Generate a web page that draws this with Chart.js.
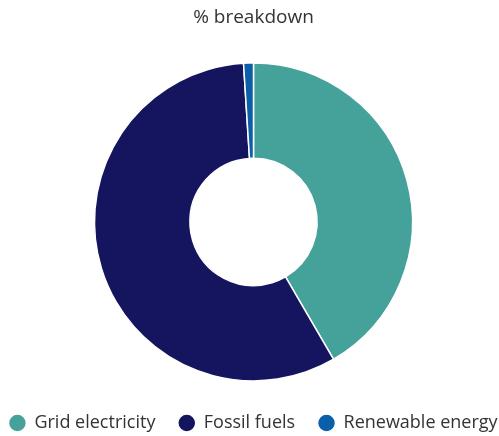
<!DOCTYPE html>
<html>
<head>
<meta charset="utf-8">
<script src="https://cdn.jsdelivr.net/npm/chart.js@4"></script>
<style>
  html, body { margin: 0; padding: 0; background: #fff; }
  #wrap { width: 499px; height: 436px; }
</style>
</head>
<body>
<div id="wrap"><canvas id="chart"></canvas></div>
<script>
// 数据
const categories = ['Grid electricity', 'Fossil fuels', 'Renewable energy'];
const shares = [41.6, 57.4, 1.0];
const colors = ['#45a29b', '#15155f', '#0b5ea8'];

// 图例项之间的间距用尾部空格，这样三项能放在一行
const gap = '     ';

const ctx = document.getElementById('chart').getContext('2d');
new Chart(ctx, {
  type: 'doughnut',
  data: {
    labels: categories,
    datasets: [{
      data: shares,
      backgroundColor: colors,
      borderColor: '#fff',
      borderWidth: 1.5,
      radius: 159
    }]
  },
  options: {
    responsive: true,
    maintainAspectRatio: false,
    animation: false,
    cutout: '40%',
    layout: { padding: { top: 0, bottom: -6, left: 8, right: 0 } },
    plugins: {
      title: {
        display: true,
        text: '% breakdown',
        color: '#333',
        font: { family: 'Open Sans', size: 19, weight: 'normal' },
        padding: { top: 6, bottom: 1 }
      },
      legend: {
        position: 'bottom',
        labels: {
          usePointStyle: true,
          pointStyle: 'circle',
          boxWidth: 16,
          boxHeight: 12.7,
          padding: 0,
          color: '#333',
          font: { family: 'Open Sans', size: 18 },
          generateLabels: (chart) => {
            const items = Chart.overrides.doughnut.plugins.legend.labels.generateLabels(chart);
            items.forEach((item, i) => {
              if (i < items.length - 1) item.text = item.text + gap;
            });
            return items;
          }
        }
      },
      tooltip: { enabled: false }
    }
  }
});
</script>
</body>
</html>
